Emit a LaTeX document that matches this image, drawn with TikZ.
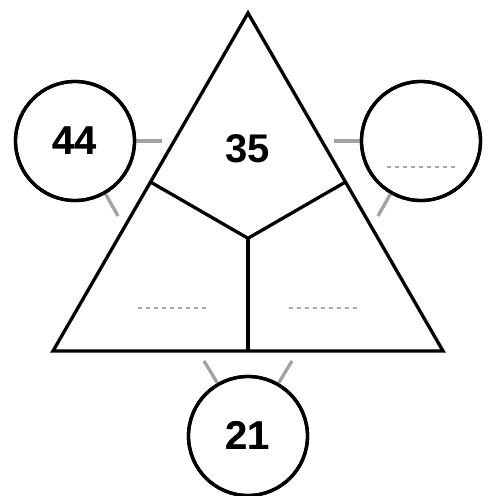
\documentclass[tikz,border=0pt]{standalone}
\usepackage{fontspec}
\setmainfont{Liberation Sans}
\begin{document}
\begin{tikzpicture}[x=1pt,y=-1pt,
  edge/.style={line width=3.3pt,black,line join=miter},
  bubble/.style={circle,draw,line width=3.3pt,minimum size=119pt,inner sep=0pt,font=\fontsize{40}{40}\selectfont\bfseries},
  spoke/.style={line width=3.3pt,draw=spokegray},
  blank/.style={line width=1.6pt,draw=blankgray,dash pattern=on 4pt off 4pt},
  num/.style={font=\fontsize{40}{40}\selectfont\bfseries,inner sep=0pt}]
\definecolor{spokegray}{RGB}{160,162,166}
\definecolor{blankgray}{RGB}{170,170,170}
\useasboundingbox (0,0) rectangle (488,496);
% triangle
\coordinate (A) at (248,13);
\coordinate (L) at (53,351);
\coordinate (R) at (443,351);
\coordinate (G) at (248,238.3);
\coordinate (ML) at (150.5,182);
\coordinate (MR) at (345.5,182);
\coordinate (MB) at (248,351);
% spokes (drawn first, under circles)
\node[bubble] (c44) at (75,141) {44};
\node[bubble] (cR) at (421,141) {};
\node[bubble] (c21) at (248,436) {21};
\coordinate (s1) at (162,141);
\coordinate (s2) at (118,216);
\coordinate (s3) at (334,141);
\coordinate (s4) at (378,216);
\coordinate (s5) at (204,361);
\coordinate (s6) at (292,361);
\draw[spoke] (c44.0) -- (s1);
\draw[spoke] (c44.-60) -- (s2);
\draw[spoke] (cR.180) -- (s3);
\draw[spoke] (cR.240) -- (s4);
\draw[spoke] (c21.120) -- (s5);
\draw[spoke] (c21.60) -- (s6);
\node[bubble] at (c44) {44};
\node[bubble] at (cR) {};
\node[bubble] at (c21) {21};
\draw[edge] (A) -- (L) -- (R) -- cycle;
\draw[edge] (ML) -- (G) -- (MR);
\draw[edge] (G) -- (MB);
\node[num] (t35) at (248,149) {35};
% blanks
\coordinate (b1a) at (138,308); \coordinate (b1b) at (207,308);
\coordinate (b2a) at (289,308); \coordinate (b2b) at (358,308);
\coordinate (b3a) at (387,167); \coordinate (b3b) at (456,167);
\draw[blank] (b1a) -- (b1b);
\draw[blank] (b2a) -- (b2b);
\draw[blank] (b3a) -- (b3b);
\end{tikzpicture}
\end{document}
